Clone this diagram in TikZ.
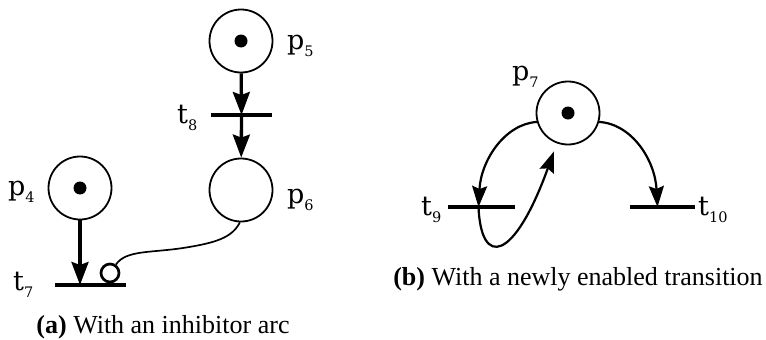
\documentclass[tikz,border=0pt]{standalone}
\usepackage{fontspec}
\setmainfont{Liberation Serif}
\newfontfamily\lblfont{DejaVu Serif}
\usetikzlibrary{arrows.meta}
\newcommand\pnlbl[2]{{\lblfont\fontsize{27}{27}\selectfont #1\raisebox{-7pt}{\fontsize{14.5}{14.5}\selectfont #2}}}
\tikzset{
  place/.style={circle,draw,line width=1.8pt,minimum size=63pt,inner sep=0pt},
  token/.style={circle,fill,minimum size=13pt,inner sep=0pt},
  bar/.style={rectangle,fill,minimum height=4pt,inner sep=0pt,outer sep=0pt},
  inhib/.style={circle,draw,line width=2.7pt,minimum size=18pt,inner sep=0pt},
  lbl/.style={anchor=base west,inner sep=0pt},
  captext/.style={font=\fontsize{26}{26}\selectfont,inner sep=0pt,anchor=base},
  sarc/.style={line width=3.3pt,-{Stealth[length=23pt,width=17pt,inset=3pt]}},
  carc/.style={line width=2.2pt,-{Stealth[length=21pt,width=15pt,inset=3pt]}},
}
\begin{document}
\begin{tikzpicture}[x=1pt,y=-1pt]
\useasboundingbox (0,0) rectangle (766,340);
% ---- (a)
\node[place] (p5) at (241,41) {};
\node[token] at (p5) {};
\node[lbl] (lp5) at (287,49) {\pnlbl{p}{5}};
\node[bar,minimum width=61pt] (t8) at (241.5,115) {};
\node[lbl] (lt8) at (177,123) {\pnlbl{t}{8}};
\node[place] (p6) at (241,190) {};
\node[lbl] (lp6) at (287,203) {\pnlbl{p}{6}};
\node[place] (p4) at (80,188) {};
\node[token] at (p4) {};
\node[lbl] (lp4) at (8,195) {\pnlbl{p}{4}};
\node[bar,minimum width=71pt] (t7) at (90.5,285) {};
\node[lbl] (lt7) at (13,290) {\pnlbl{t}{7}};
\node[inhib] (inh) at (110,273) {};
\draw[sarc] (p5) -- (t8.center);
\draw[sarc] (t8.center) -- (p6);
\draw[sarc] (p4) -- (p4 |- t7.center);
\draw[line width=1.7pt] (p6.268) .. controls (232,238) and (215,243) .. (183,248)
   .. controls (150,253) and (126,250) .. (inh.55);
\node[captext] (capa) at (163,333) {\textbf{(a)} With an inhibitor arc};
% ---- (b)
\node[place] (p7) at (568,113) {};
\node[token] at (p7) {};
\node[lbl] (lp7) at (512,80) {\pnlbl{p}{7}};
\node[bar,minimum width=67pt] (t9) at (481.5,207) {};
\node[lbl] (lt9) at (421,215) {\pnlbl{t}{9}};
\node[bar,minimum width=65pt] (t10) at (662.5,207) {};
\node[lbl] (lt10) at (698,215) {\pnlbl{t}{10}};
\coordinate (t9in) at ([xshift=-3pt]t9.center);
\coordinate (t10in) at ([xshift=-5pt]t10.center);
\coordinate (p7in) at ([shift={(-3,8)}]p7.250);
\draw[carc] (p7.196) .. controls (505,124) and (481,160) .. (t9in);
\draw[carc] (t9in) .. controls (481,268) and (514,262) .. (p7in);
\draw[carc] (p7.-16) .. controls (632,124) and (655,160) .. (t10in);
\node[captext] (capb) at (578,285) {\textbf{(b)} With a newly enabled transition};
\end{tikzpicture}
\end{document}
